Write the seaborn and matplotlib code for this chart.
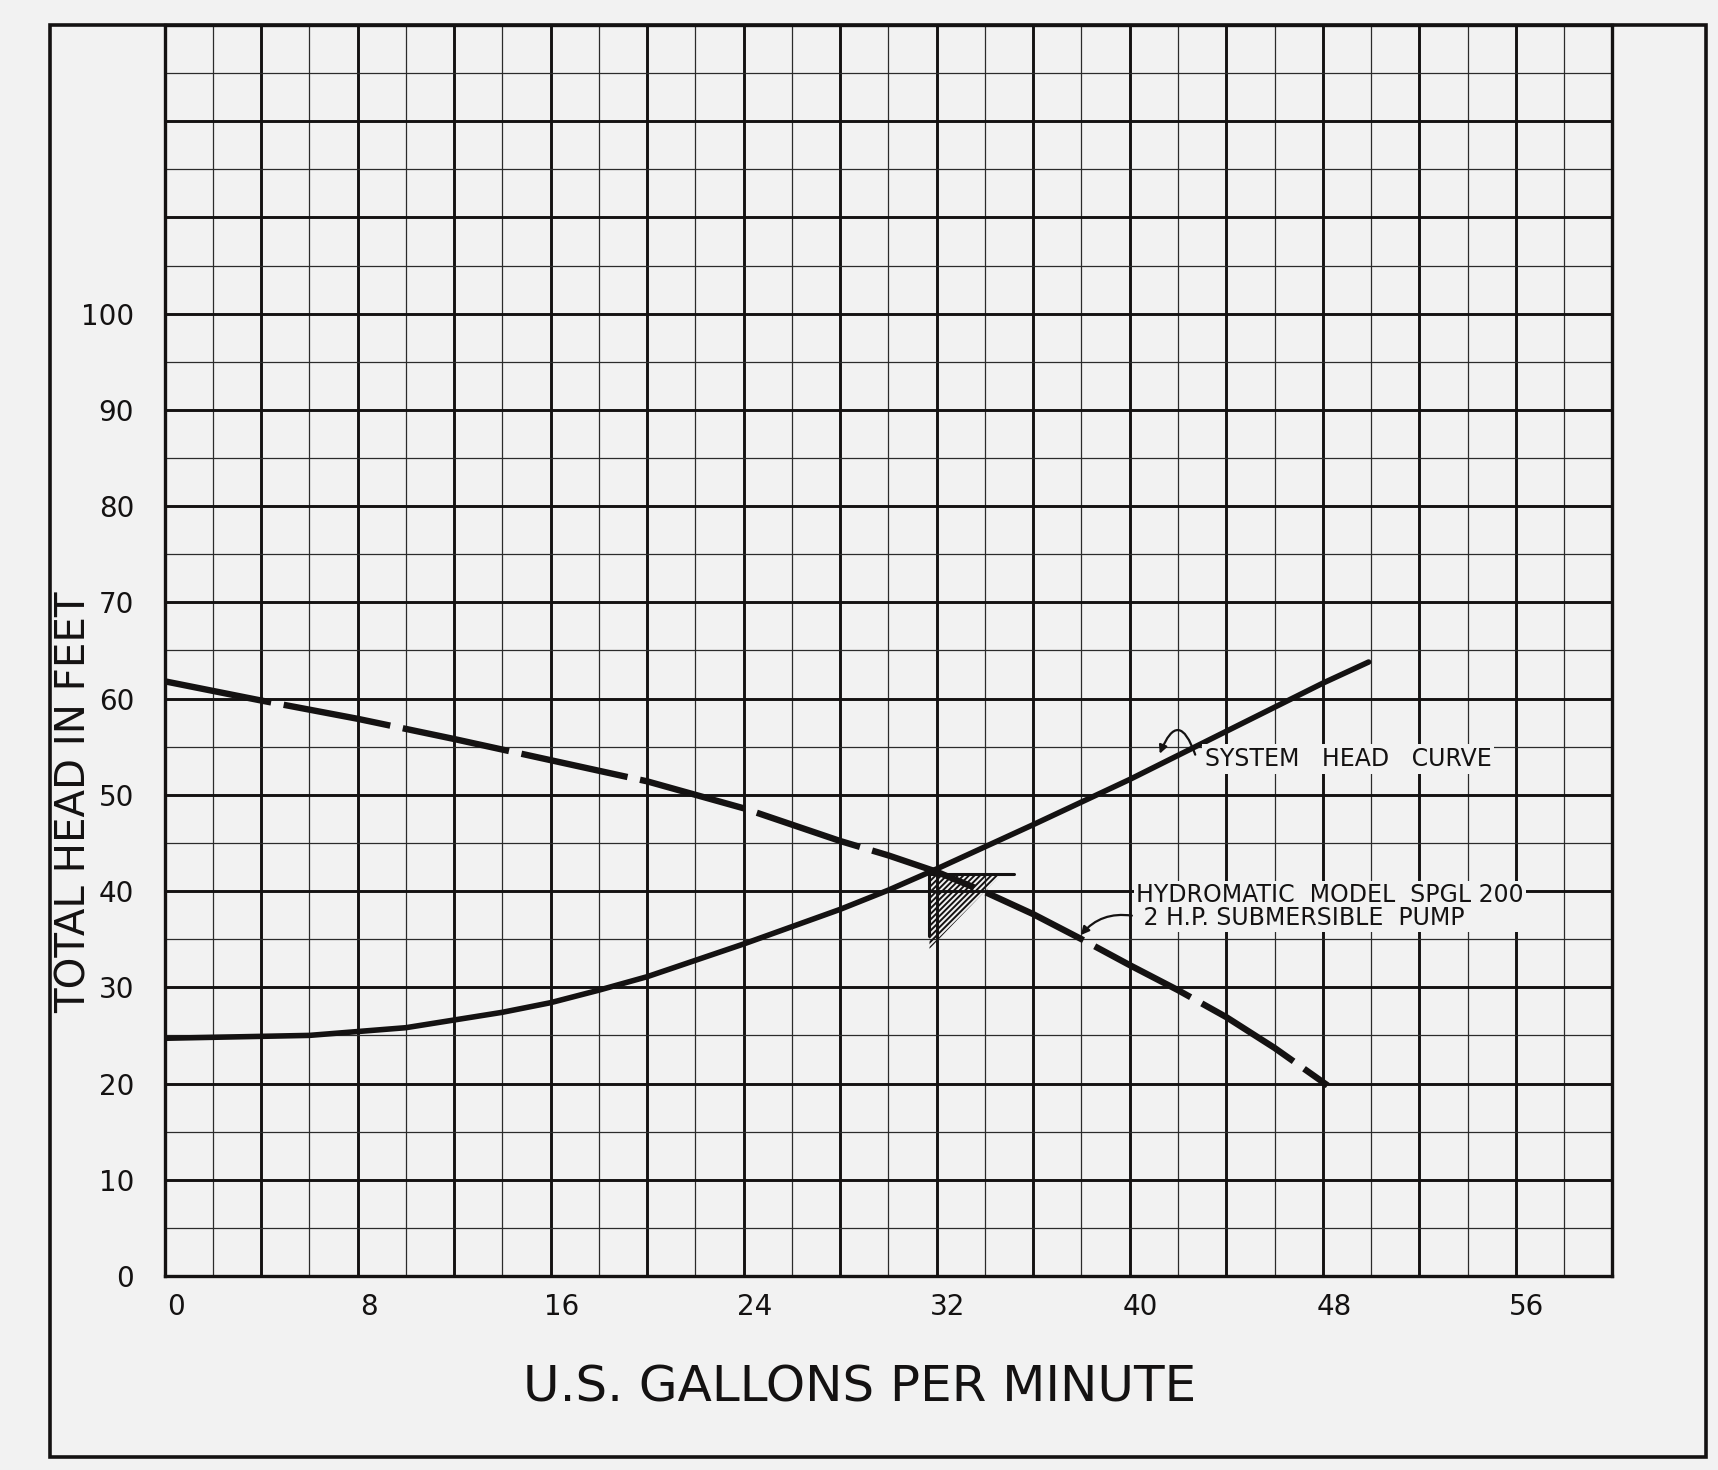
import matplotlib
matplotlib.use("Agg")
import matplotlib.pyplot as plt
import numpy as np
import pandas as pd
import seaborn as sns
from matplotlib.ticker import MultipleLocator, FuncFormatter
from matplotlib.transforms import ScaledTranslation
from matplotlib.patches import Rectangle

# PUMP CURVE (dashed)
pump_gpm = [0, 4, 8, 12, 16, 20, 24, 28, 30, 32, 34, 36, 38, 40, 42, 44, 46, 48.2]
pump_head = [61.8, 59.8, 57.9, 55.8, 53.6, 51.4, 48.6, 45.2, 43.7, 42.0,
             39.9, 37.6, 35.0, 32.3, 29.7, 26.9, 23.7, 19.8]

# SYSTEM HEAD CURVE (solid)
sys_gpm = [0, 2, 4, 6, 8, 10, 12, 14, 16, 18, 20, 24, 28, 30, 32, 36, 40, 42, 44, 48, 49.9]
sys_head = [24.7, 24.8, 24.9, 25.0, 25.4, 25.8, 26.6, 27.4, 28.4, 29.7, 31.1,
            34.5, 38.1, 40.1, 42.3, 46.9, 51.6, 54.1, 56.6, 61.6, 63.8]

# operating point marker (hatched triangle)
tri_gpm = [31.7, 34.7, 31.7]
tri_head = [41.8, 41.8, 34.0]
op_vert_gpm = [31.7, 31.7]
op_vert_head = [42.2, 35.3]
op_horz_gpm = [31.7, 35.2]
op_horz_head = [41.8, 41.8]

x_tick_vals = [0, 8, 16, 24, 32, 40, 48, 56]
y_tick_vals = [0, 10, 20, 30, 40, 50, 60, 70, 80, 90, 100]

pump_df = pd.DataFrame({"gpm": pump_gpm, "head": pump_head})
sys_df = pd.DataFrame({"gpm": sys_gpm, "head": sys_head})

paper = "#f2f2f2"
ink = "#141212"

sns.set_theme(style="white")
plt.rcParams["font.family"] = ["DejaVu Sans"]
plt.rcParams["hatch.linewidth"] = 1.4

fig = plt.figure(figsize=(17.18, 14.70), dpi=100, facecolor=paper)
ax = fig.add_axes([0.0958, 0.132, 0.8427, 0.851])
ax.set_facecolor(paper)

# GRID like the graph paper
ax.set_xlim(0, 60)
ax.set_ylim(0, 130)
ax.xaxis.set_major_locator(MultipleLocator(4))
ax.xaxis.set_minor_locator(MultipleLocator(2))
ax.yaxis.set_major_locator(MultipleLocator(10))
ax.yaxis.set_minor_locator(MultipleLocator(5))
ax.xaxis.set_major_formatter(FuncFormatter(
    lambda v, _: f"{int(round(v))}" if int(round(v)) in x_tick_vals else ""))
ax.yaxis.set_major_formatter(FuncFormatter(
    lambda v, _: f"{int(round(v))}" if int(round(v)) in y_tick_vals else ""))
ax.grid(True, which="major", color=ink, linewidth=2.1)
ax.grid(True, which="minor", color="#2b2b2b", linewidth=0.9)
ax.set_axisbelow(True)
ax.tick_params(which="both", length=0)
ax.tick_params(axis="x", labelsize=20, pad=12, colors=ink)
ax.tick_params(axis="y", labelsize=20, pad=22, colors=ink)
for s in ax.spines.values():
    s.set_linewidth(2.4)
    s.set_color(ink)

# x labels sit a little right of their lines
for lab in ax.get_xticklabels():
    lab.set_transform(lab.get_transform() + ScaledTranslation(0.11, 0, fig.dpi_scale_trans))

# CURVES
sns.lineplot(data=sys_df, x="gpm", y="head", ax=ax, color=ink, linewidth=4.0,
             solid_capstyle="round", solid_joinstyle="round", zorder=5)
sns.lineplot(data=pump_df, x="gpm", y="head", ax=ax, color=ink, linewidth=4.6,
             linestyle=(0, (17, 2)), dash_capstyle="butt", zorder=5)

# operating point
ax.fill(tri_gpm, tri_head, facecolor="none", edgecolor=ink, hatch="//////",
        linewidth=0, zorder=4)
ax.plot(op_vert_gpm, op_vert_head, color=ink, linewidth=2.2, zorder=6)
ax.plot(op_horz_gpm, op_horz_head, color=ink, linewidth=2.2, zorder=6)

# LABELS
ax.text(43.1, 53.7, "SYSTEM   HEAD   CURVE", fontsize=17, color=ink,
        ha="left", va="center", zorder=7,
        bbox=dict(facecolor=paper, edgecolor="none", pad=2))
ax.annotate("", xy=(41.2, 54.0), xytext=(42.75, 53.9),
            arrowprops=dict(arrowstyle="-|>", connectionstyle="arc3,rad=1.4",
                            color=ink, lw=1.6, mutation_scale=12), zorder=7)

ax.text(40.25, 38.4, "HYDROMATIC  MODEL  SPGL 200\n 2 H.P. SUBMERSIBLE  PUMP",
        fontsize=17, color=ink, ha="left", va="center", linespacing=0.95,
        zorder=7, bbox=dict(facecolor=paper, edgecolor="none", pad=1.5))
ax.annotate("", xy=(37.9, 35.2), xytext=(40.2, 37.4),
            arrowprops=dict(arrowstyle="-|>", connectionstyle="arc3,rad=0.3",
                            color=ink, lw=1.6, mutation_scale=12), zorder=7)

ax.set_xlabel("U.S. GALLONS PER MINUTE", fontsize=36, color=ink)
ax.set_ylabel("TOTAL HEAD IN FEET", fontsize=29, color=ink)
ax.xaxis.set_label_coords(0.48, -0.089)
ax.yaxis.set_label_coords(-0.062, 0.379)
ax.xaxis.label.set_va("center")
ax.yaxis.label.set_va("center")

# outer frame of the sheet
fig.add_artist(Rectangle((0.029, 0.009), 0.964, 0.974, transform=fig.transFigure,
                         fill=False, edgecolor=ink, linewidth=2.6))

fig.savefig("out.png", dpi=100, facecolor=paper)
